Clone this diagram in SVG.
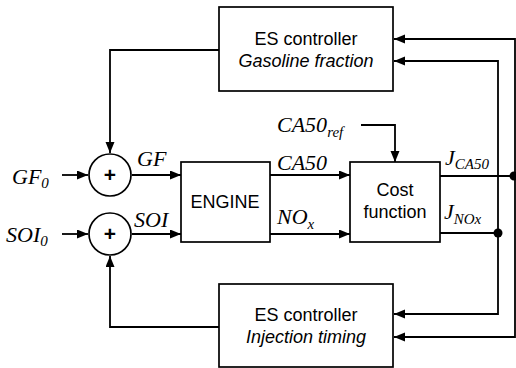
<svg xmlns="http://www.w3.org/2000/svg" width="516" height="368" viewBox="0 0 516 368">
<defs>
<marker id="ar" markerUnits="userSpaceOnUse" markerWidth="12" markerHeight="10" refX="11" refY="4.5" orient="auto">
<path d="M0,0 L11,4.5 L0,9 z" fill="#000"/>
</marker>
<style>
.box{fill:#fff;stroke:#000;stroke-width:1.7}
.ln{fill:none;stroke:#000;stroke-width:1.8}
.sans{font-family:"Liberation Sans",Arial,sans-serif;font-size:18px;fill:#000}
.it{font-style:italic}
.plus{font-family:"Liberation Sans",Arial,sans-serif;font-size:21px;font-weight:bold;fill:#000}
.m{font-family:"Liberation Serif","Times New Roman",serif;font-style:italic;font-size:22px;fill:#000}
.sub{font-size:15px}
</style>
</defs>
<rect width="516" height="368" fill="#fff"/>
<g id="connectors">
<path class="ln" d="M219,50 H110 V153" marker-end="url(#ar)"/>
<path class="ln" d="M219,327 H110 V256" marker-end="url(#ar)"/>
<path class="ln" d="M62,175 H88" marker-end="url(#ar)"/>
<path class="ln" d="M62,234 H88" marker-end="url(#ar)"/>
<path class="ln" d="M132,175 H181" marker-end="url(#ar)"/>
<path class="ln" d="M132,234 H181" marker-end="url(#ar)"/>
<path class="ln" d="M270,175 H350" marker-end="url(#ar)"/>
<path class="ln" d="M270,234 H350" marker-end="url(#ar)"/>
<path class="ln" d="M361,125 H395 V162" marker-end="url(#ar)"/>
<path class="ln" d="M440,176 H514"/>
<path class="ln" d="M440,233 H498"/>
<path class="ln" d="M515,176 V39 H394" marker-end="url(#ar)"/>
<path class="ln" d="M498,233 V61 H394" marker-end="url(#ar)"/>
<path class="ln" d="M498,233 V314 H394" marker-end="url(#ar)"/>
<path class="ln" d="M515,176 V337 H394" marker-end="url(#ar)"/>
<circle cx="514" cy="176" r="4.5" fill="#000"/>
<circle cx="498" cy="233" r="4.5" fill="#000"/>
</g>
<g id="es-gf">
<rect class="box" x="219" y="7" width="174" height="84"/>
<text class="sans" x="306" y="45" text-anchor="middle">ES controller</text>
<text class="sans it" x="306" y="67" text-anchor="middle">Gasoline fraction</text>
</g>
<g id="es-inj">
<rect class="box" x="219" y="284" width="174" height="83"/>
<text class="sans" x="306" y="321" text-anchor="middle">ES controller</text>
<text class="sans it" x="306" y="343" text-anchor="middle">Injection timing</text>
</g>
<g id="sum-gf">
<circle class="box" cx="110" cy="175" r="21"/>
<text class="plus" x="110" y="182" text-anchor="middle">+</text>
</g>
<g id="sum-soi">
<circle class="box" cx="110" cy="234" r="21"/>
<text class="plus" x="110" y="241" text-anchor="middle">+</text>
</g>
<g id="engine">
<rect class="box" x="181" y="162" width="89" height="80"/>
<text class="sans" x="225" y="208" text-anchor="middle">ENGINE</text>
</g>
<g id="cost">
<rect class="box" x="350" y="162" width="90" height="80"/>
<text class="sans" x="395" y="196" text-anchor="middle">Cost</text>
<text class="sans" x="395" y="218" text-anchor="middle">function</text>
</g>
<g id="labels">
<text class="m" x="12" y="184">GF<tspan class="sub" dy="4">0</tspan></text>
<text class="m" x="6" y="242">SOI<tspan class="sub" dy="4">0</tspan></text>
<text class="m" x="137" y="166">GF</text>
<text class="m" x="134" y="227">SOI</text>
<text class="m" x="277" y="170">CA50</text>
<text class="m" x="277" y="224">NO<tspan class="sub" dy="5">x</tspan></text>
<text class="m" x="277" y="132">CA50<tspan class="sub" dy="5">ref</tspan></text>
<text class="m" x="445" y="165">J<tspan class="sub" dy="4">CA50</tspan></text>
<text class="m" x="444" y="219">J<tspan class="sub" dy="5">NOx</tspan></text>
</g>
</svg>
